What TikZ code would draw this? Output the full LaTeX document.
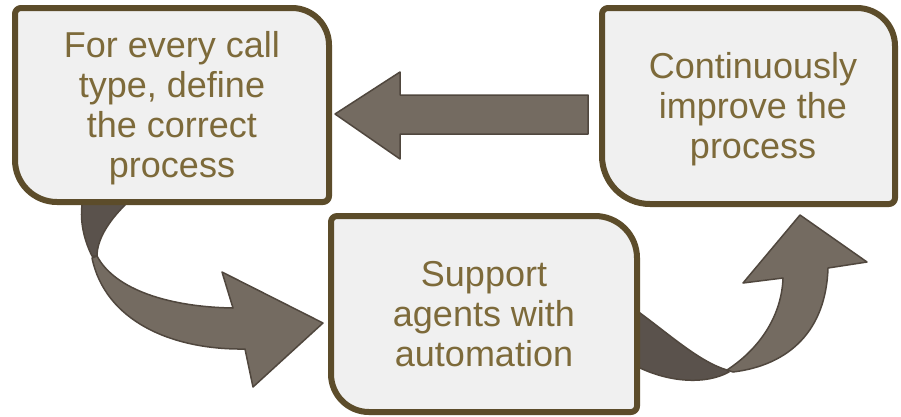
\documentclass[tikz,border=0pt]{standalone}
\usepackage{fontspec}
\setmainfont{Liberation Sans}
\definecolor{boxborder}{RGB}{92,76,42}
\definecolor{boxfill}{RGB}{240,240,240}
\definecolor{txt}{RGB}{125,106,58}
\definecolor{arrfront}{RGB}{116,107,97}
\definecolor{arrback}{RGB}{90,82,76}
\definecolor{arrline}{RGB}{80,71,62}
% x1 y1 x2 y2 Rtopright Rbottomleft style
\newcommand{\mydiagbox}[7]{%
\draw[#7] ({#1+6},#2) -- ({#3-#5},#2)
  .. controls ({#3-0.4477*#5},#2) and (#3,{#2+0.4477*#5}) .. (#3,{#2+#5})
  -- (#3,{#4-6})
  .. controls (#3,{#4-2.69}) and ({#3-2.69},#4) .. ({#3-6},#4)
  -- ({#1+#6},#4)
  .. controls ({#1+0.4477*#6},#4) and (#1,{#4-0.4477*#6}) .. (#1,{#4-#6})
  -- (#1,{#2+6})
  .. controls (#1,{#2+2.69}) and ({#1+2.69},#2) .. ({#1+6},#2) -- cycle;}
\tikzset{
  boxstyle/.style={draw=boxborder, fill=boxfill, line width=6pt, line join=round},
  arrowfront/.style={fill=arrfront, draw=arrline, line width=1.5pt, line join=round},
  arrowback/.style={fill=arrback, draw=arrline, line width=1.5pt, line join=round},
  label/.style={text=txt, font=\fontsize{36}{40}\selectfont, align=center, inner sep=0pt}
}
\begin{document}
\begin{tikzpicture}[x=1pt,y=-1pt]
\useasboundingbox (0,0) rectangle (901,416);
\fill[white] (0,0) rectangle (901,416);
% curved arrow 1 (back part)
\draw[arrowback] (82,195) -- (125,195) -- (125,205)
  .. controls (108,222) and (97,240) .. (97,256)
  -- (92,256) .. controls (84,240) and (80,222) .. (82,205) -- cycle;
% curved arrow 2 (back part)
\draw[arrowback] (630,305) -- (640,313) .. controls (670,335) and (700,362) .. (727,370)
  -- (729,372) .. controls (705,385) and (670,382) .. (640,368) -- (630,368) -- cycle;
% boxes
\mydiagbox{15}{8}{329}{202}{37}{42}{boxstyle}
\mydiagbox{331}{216}{637}{412}{42}{38}{boxstyle}
\mydiagbox{602}{8}{895}{204}{38}{48}{boxstyle}
% curved arrow 1 (front part)
\draw[arrowfront] (97,256) .. controls (115,290) and (170,307) .. (233,308)
  -- (222,272) -- (323,323) -- (253,387) -- (245,349)
  .. controls (170,350) and (105,320) .. (92,258) -- cycle;
% curved arrow 2 (front part)
\draw[arrowfront] (727,370) .. controls (765,345) and (782,310) .. (783,278)
  -- (743,283) -- (800,215) -- (867,262) -- (828,268)
  .. controls (826,330) and (790,365) .. (733,372) -- cycle;
% straight arrow
\draw[arrowfront] (588,95) -- (400,95) -- (400,72) -- (335,114) -- (400,159)
  -- (400,134) -- (588,134) -- cycle;
% texts
\node[label] (define) at (172,108) {For every call\\type, define\\the correct\\process};
\node[label] (support) at (484,314) {Support\\agents with\\automation};
\node[label] (improve) at (753,109) {Continuously\\improve the\\process};
\end{tikzpicture}
\end{document}
